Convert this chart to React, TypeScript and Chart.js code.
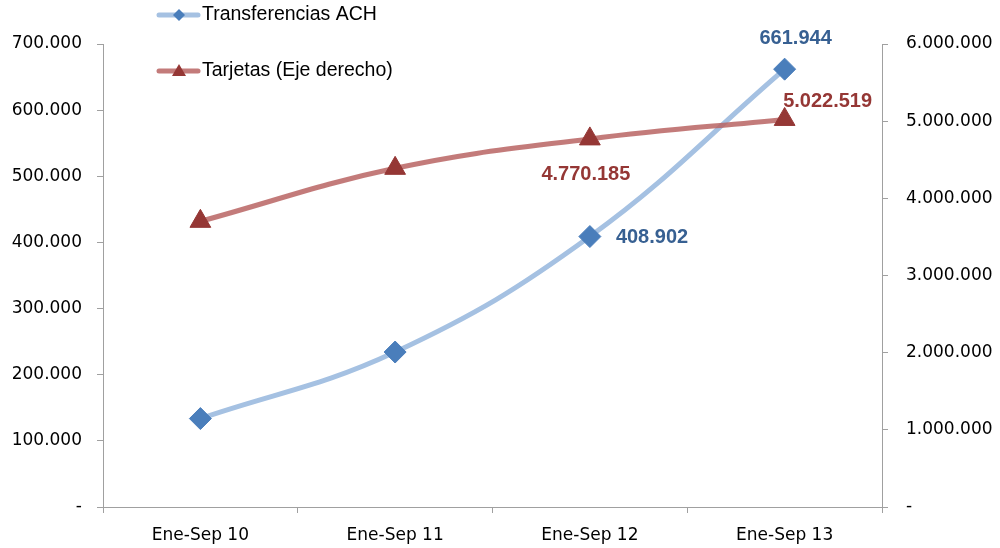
import React, { useEffect, useRef } from "react";
import { Chart, registerables } from "chart.js";

Chart.register(...registerables);

const categories = ["Ene-Sep 10", "Ene-Sep 11", "Ene-Sep 12", "Ene-Sep 13"];
const achValues = [133700, 234300, 408902, 661944];
const tarjetasValues = [3702000, 4389000, 4770185, 5022519];
const seriesNames = ["Transferencias ACH", "Tarjetas (Eje derecho)"];
const leftMax = 700000;
const leftStep = 100000;
const rightMax = 6000000;
const rightStep = 1000000;

const ACH_LINE = "#a5c1e2";
const ACH_MARK = "#4a7ebb";
const ACH_TEXT = "#376092";
const TJ_LINE = "rgba(185, 100, 99, 0.85)";
const TJ_MARK = "#953735";
const TJ_TEXT = "#953735";

function fmt(v: number): string {
  if (v === 0) return "-";
  return Math.round(v)
    .toString()
    .replace(/\B(?=(\d{3})+(?!\d))/g, ".");
}

const labelPlugin = {
  id: "valueLabels",
  afterDatasetsDraw(chart: any) {
    const ctx = chart.ctx;
    const specs = [
      { ds: 0, i: 2, dx: 26, dy: 1, align: "left", color: ACH_TEXT },
      { ds: 0, i: 3, dx: 11, dy: -31, align: "center", color: ACH_TEXT },
      { ds: 1, i: 2, dx: -4, dy: 36, align: "center", color: TJ_TEXT },
      { ds: 1, i: 3, dx: 43, dy: -18, align: "center", color: TJ_TEXT },
    ];
    ctx.save();
    ctx.font = "bold 20px 'Liberation Sans', Arial, sans-serif";
    ctx.textBaseline = "middle";
    for (const s of specs) {
      const el = chart.getDatasetMeta(s.ds).data[s.i];
      const val = chart.data.datasets[s.ds].data[s.i];
      ctx.fillStyle = s.color;
      ctx.textAlign = s.align;
      ctx.fillText(fmt(val), el.x + s.dx, el.y + s.dy);
    }
    ctx.restore();
  },
};

const legendPlugin = {
  id: "customLegend",
  afterDraw(chart: any) {
    const ctx = chart.ctx;
    const items = [
      { y: 15, line: ACH_LINE, mark: ACH_MARK, style: "diamond", text: seriesNames[0] },
      { y: 71, line: TJ_LINE, mark: TJ_MARK, style: "triangle", text: seriesNames[1] },
    ];
    ctx.save();
    for (const it of items) {
      ctx.strokeStyle = it.line;
      ctx.lineWidth = 5;
      ctx.lineCap = "round";
      ctx.beginPath();
      ctx.moveTo(159, it.y);
      ctx.lineTo(198, it.y);
      ctx.stroke();
      ctx.fillStyle = it.mark;
      ctx.beginPath();
      const cx = 179;
      if (it.style === "diamond") {
        const r = 6;
        ctx.moveTo(cx, it.y - r);
        ctx.lineTo(cx + r, it.y);
        ctx.lineTo(cx, it.y + r);
        ctx.lineTo(cx - r, it.y);
      } else {
        ctx.moveTo(cx, it.y - 7);
        ctx.lineTo(cx + 7, it.y + 5);
        ctx.lineTo(cx - 7, it.y + 5);
      }
      ctx.closePath();
      ctx.fill();
      ctx.fillStyle = "#000";
      ctx.font = "19.5px 'Liberation Sans', Arial, sans-serif";
      ctx.textAlign = "left";
      ctx.textBaseline = "middle";
      ctx.fillText(it.text, 202, it.y);
    }
    ctx.restore();
  },
};

export default function App() {
  const ref = useRef<HTMLCanvasElement>(null);
  useEffect(() => {
    const chart = new Chart(ref.current!, {
      type: "line",
      data: {
        labels: categories,
        datasets: [
          {
            label: seriesNames[0],
            data: achValues,
            yAxisID: "y",
            borderColor: ACH_LINE,
            backgroundColor: ACH_MARK,
            borderWidth: 5,
            tension: 0.4,
            pointStyle: "rectRot",
            pointRadius: 11,
            pointBackgroundColor: ACH_MARK,
            pointBorderColor: ACH_MARK,
            pointBorderWidth: 1,
            order: 1,
          },
          {
            label: seriesNames[1],
            data: tarjetasValues,
            yAxisID: "y1",
            borderColor: TJ_LINE,
            backgroundColor: TJ_MARK,
            borderWidth: 5,
            tension: 0.4,
            pointStyle: "triangle",
            pointRadius: 12,
            pointBackgroundColor: TJ_MARK,
            pointBorderColor: TJ_MARK,
            pointBorderWidth: 1,
            order: 0,
          },
        ],
      },
      options: {
        responsive: false,
        animation: false,
        layout: { padding: { top: 44, left: 0, right: 0, bottom: 0 } },
        plugins: { legend: { display: false }, tooltip: { enabled: false } },
        scales: {
          x: {
            offset: true,
            grid: {
              offset: true,
              drawOnChartArea: false,
              drawTicks: true,
              tickLength: 6,
              color: "#a0a0a0",
            },
            border: { color: "#a0a0a0", width: 1 },
            ticks: {
              color: "#000",
              font: { family: "'DejaVu Sans'", size: 17 },
              padding: 12,
              maxRotation: 0,
            },
            afterFit(scale: any) {
              scale.height = 41;
            },
          },
          y: {
            position: "left",
            min: 0,
            max: leftMax,
            grid: { drawOnChartArea: false, tickLength: 6, color: "#a0a0a0" },
            border: { color: "#a0a0a0", width: 1 },
            ticks: {
              stepSize: leftStep,
              color: "#000",
              font: { family: "'DejaVu Sans'", size: 17 },
              padding: 15,
              callback: (v: any) => fmt(Number(v)),
            },
            afterFit(scale: any) {
              scale.width = 103;
            },
          },
          y1: {
            position: "right",
            min: 0,
            max: rightMax,
            grid: { drawOnChartArea: false, tickLength: 6, color: "#a0a0a0" },
            border: { color: "#a0a0a0", width: 1 },
            ticks: {
              stepSize: rightStep,
              color: "#000",
              font: { family: "'DejaVu Sans'", size: 17 },
              padding: 18,
              callback: (v: any) => fmt(Number(v)),
            },
            afterFit(scale: any) {
              scale.width = 118;
            },
          },
        },
      },
      plugins: [labelPlugin, legendPlugin],
    });
    return () => chart.destroy();
  }, []);
  return (
    <div style={{ position: "fixed", left: 0, top: 0, width: 1000, height: 548, background: "#fff" }}>
      <canvas ref={ref} width={1000} height={548} />
    </div>
  );
}
